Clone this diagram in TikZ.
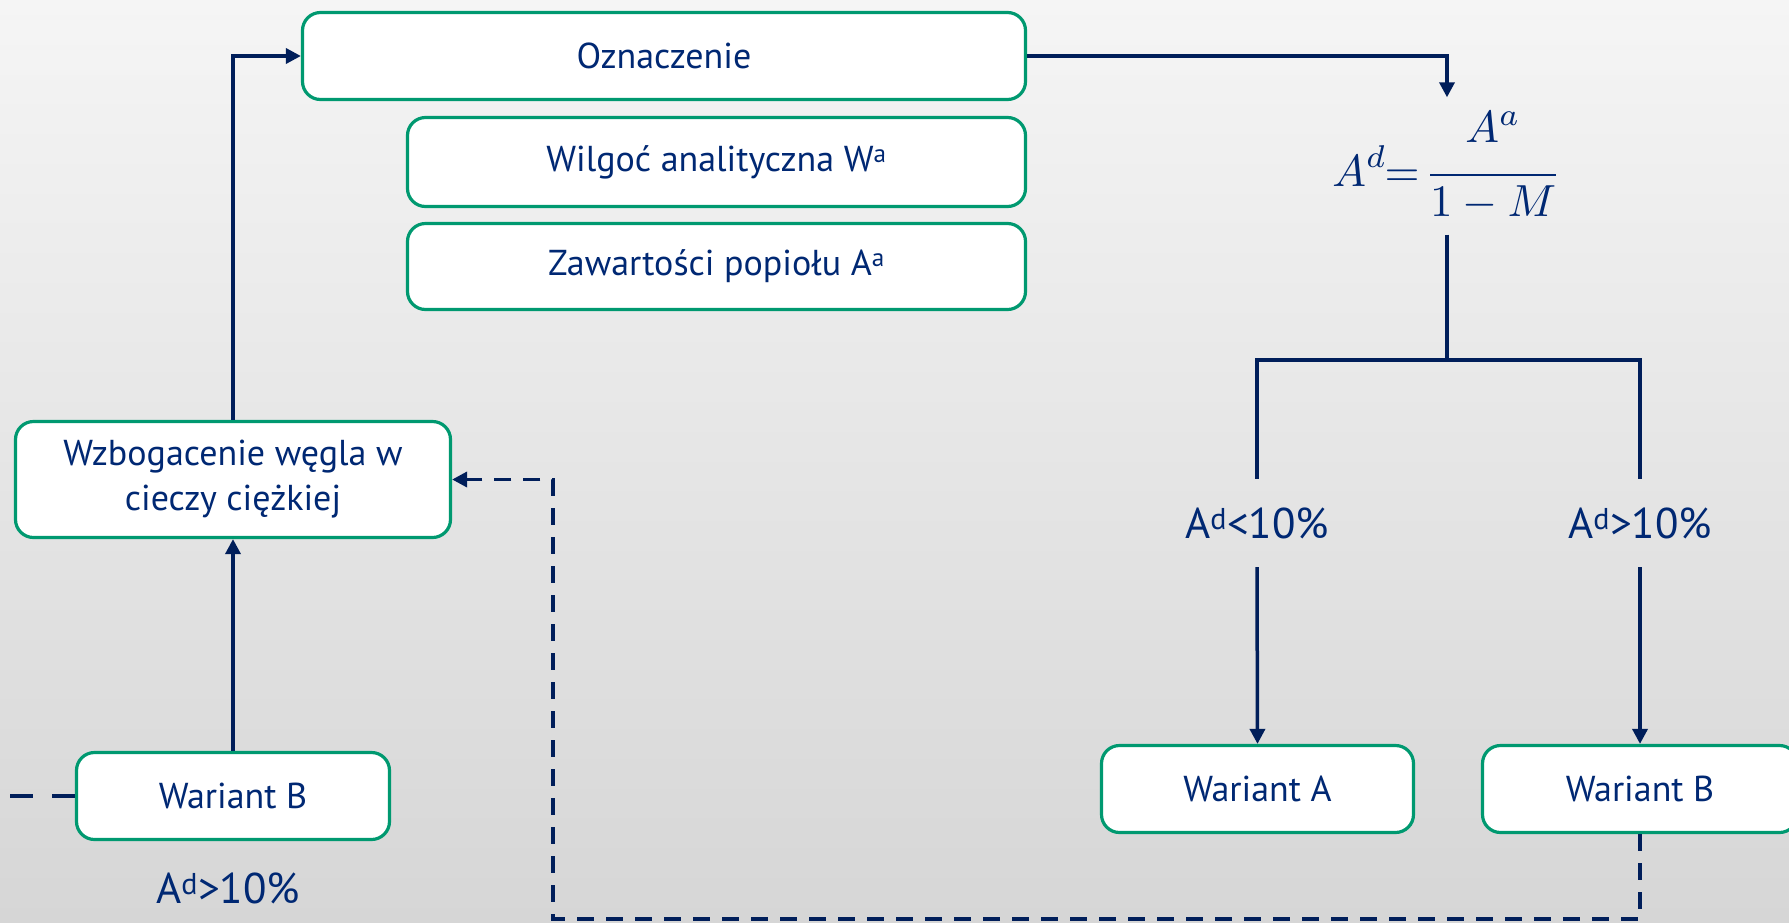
\documentclass[tikz,border=0pt]{standalone}
\usepackage{fontspec}
\usepackage{graphicx}
\setmainfont{PT Sans}
\usetikzlibrary{arrows.meta}
\definecolor{navy}{RGB}{0,30,90}
\definecolor{inktext}{RGB}{0,40,115}
\definecolor{boxgreen}{RGB}{0,153,112}
\definecolor{bgtop}{RGB}{245,245,245}
\definecolor{bgbot}{RGB}{214,214,214}
\tikzset{
  box/.style={draw=boxgreen, line width=3.2pt, fill=white, rounded corners=18pt,
    text=inktext, font=\fontsize{36}{45}\selectfont, align=center, inner sep=0pt},
  lbl/.style={text=inktext, font=\fontsize{43}{50}\selectfont, inner sep=0pt},
  conn/.style={draw=navy, line width=3.5pt},
  arr/.style={conn, -{Triangle[length=15pt,width=15pt]}},
  dashline/.style={conn, dash pattern=on 17pt off 12pt},
}
\begin{document}
\begin{tikzpicture}[x=1pt,y=-1pt]
  % page and background
  \shade[top color=bgtop, bottom color=bgbot] (0,0) rectangle (1789,922);
  \useasboundingbox (0,0) rectangle (1789,922);
  \clip (0,0) rectangle (1789,922);

  % boxes
  \node[box, minimum width=723, minimum height=87] (ozn) at (664,56) {Oznaczenie};
  \node[box, minimum width=618, minimum height=89] (wil) at (716.5,162) {Wilgoć analityczna W\textsuperscript{a}};
  \node[box, minimum width=618, minimum height=86] (zaw) at (716.5,266.5) {Zawartości popiołu A\textsuperscript{a}};
  \node[box, minimum width=435, minimum height=116] (wzb) at (233,479.5) {Wzbogacenie węgla w\\cieczy ciężkiej};
  \node[box, minimum width=313, minimum height=87] (wbl) at (233,796) {Wariant B};
  \node[box, minimum width=312, minimum height=87] (wa) at (1257.5,789) {Wariant A};
  \node[box, minimum width=315, minimum height=87] (wbr) at (1640,789) {Wariant B};

  % formula for the dry-basis ash content
  \node[text=inktext, inner sep=0pt, minimum height=137] (fml) at (1447,166)
    {\scalebox{4.5}{$\displaystyle A^{d}\!\!=\!\frac{\raisebox{0.3em}{$A^{a}$}}{1-M}$}};

  % threshold labels
  \node[lbl, minimum height=88] (lA) at (1257,523) {A\textsuperscript{d}<10\%};
  \node[lbl, minimum height=88] (lB) at (1640,523) {A\textsuperscript{d}>10\%};
  \node[lbl] (lL) at (228,888) {A\textsuperscript{d}>10\%};

  \coordinate (split) at (1447,360);
  \coordinate (loop) at (553,919);
  \coordinate (leftend) at (0,796);

  % solid connectors
  \draw[arr] (wbl.north) -- (wzb.south);
  \draw[arr] (wzb.north) |- (ozn.west);
  \draw[arr] (ozn.east) -| (fml.north);
  \draw[conn] (fml.south) -- (split);
  \draw[conn] (lA.north) |- (split) -| (lB.north);
  \draw[arr] (lA.south) -- (wa.north);
  \draw[arr] (lB.south) -- (wbr.north);

  % dashed return path
  \draw[dashline, -{Triangle[length=15pt,width=15pt]}] (wbr.south) |- (loop) |- (wzb.east);
  \draw[conn, dash pattern=on 23pt off 19pt] (wbl.west) -- (leftend);
\end{tikzpicture}
\end{document}
